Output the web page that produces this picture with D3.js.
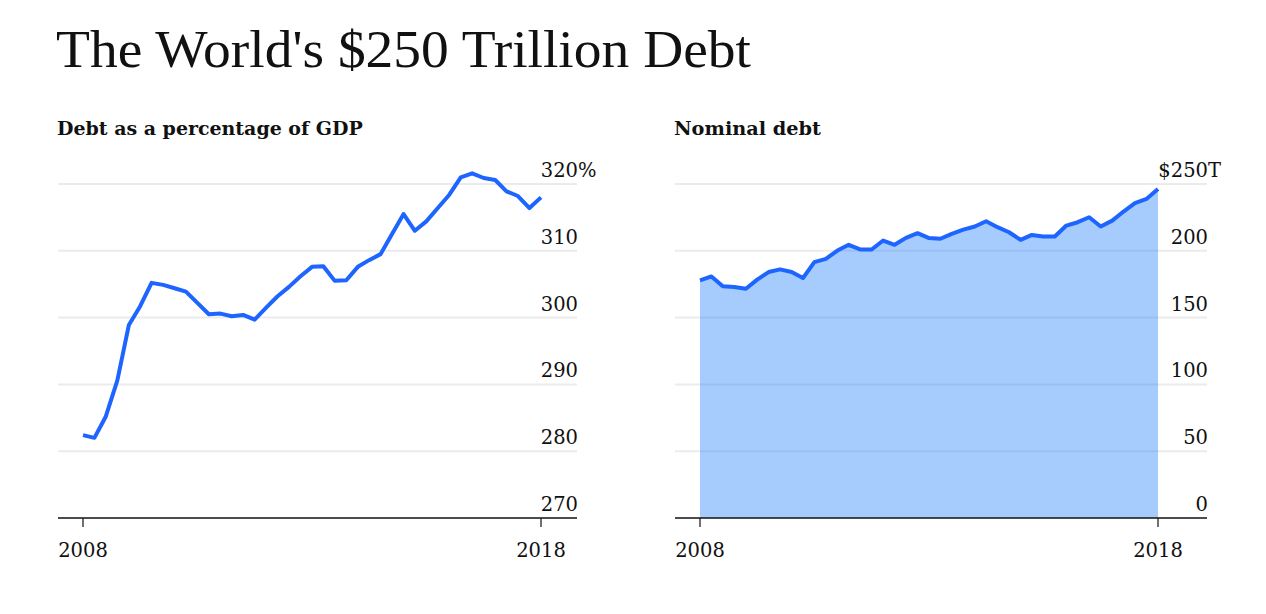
<!DOCTYPE html>
<html><head><meta charset="utf-8">
<script src="https://cdn.jsdelivr.net/npm/d3@7"></script>
<style>
body{margin:0;background:#fff;}
svg text{font-family:"DejaVu Serif",serif;fill:#111;}
</style></head>
<body><svg id="c" width="1266" height="614"></svg>
<script>
const title = "The World's $250 Trillion Debt";
const subtitles = ["Debt as a percentage of GDP", "Nominal debt"];
const startYear = 2008, endYear = 2018;
const xTickLabels = ["2008", "2018"];
// quarterly, 2008 Q1 .. 2018 Q1
const debtPctGDP = [282.4,282.0,285.2,290.6,298.9,301.7,305.2,304.9,304.4,303.9,302.2,300.5,300.6,300.2,300.4,299.7,301.5,303.2,304.6,306.2,307.6,307.7,305.5,305.6,307.6,308.6,309.5,312.5,315.5,313.0,314.4,316.4,318.4,321.0,321.6,320.9,320.6,318.9,318.2,316.4,318.0];
const nominalDebt = [177.9,180.8,173.4,172.9,171.6,178.4,184.1,186.1,184.1,179.6,191.5,194.0,200.2,204.5,201.0,201.0,207.7,204.5,209.7,213.2,209.5,209.0,212.7,215.9,218.2,222.1,217.7,213.9,208.2,211.9,210.7,210.7,218.9,221.4,225.1,218.2,222.6,229.4,235.6,238.8,246.3];
const pctTicks = [270,280,290,300,310,320];
const nomTicks = [0,50,100,150,200,250];

const svg = d3.select("#c");
svg.append("text").attr("x",56).attr("y",67).attr("font-size",53)
  .style("font-family","'Liberation Serif',serif")
  .attr("textLength",695).attr("lengthAdjust","spacingAndGlyphs").text(title);

const qDate = i => new Date(startYear + Math.floor(i/4), (i%4)*3, 1);

function fitText(sel, width){
  const w = sel.node().getComputedTextLength();
  const fs = parseFloat(sel.attr("font-size"));
  sel.attr("font-size", fs*width/w);
}

function panel(opt){
  const g = svg.append("g");
  const st = g.append("text").attr("x",opt.left-1).attr("y",135).attr("font-size",18).attr("font-weight","bold").text(opt.subtitle);
  fitText(st, opt.subW);
  const x = d3.scaleTime().domain([new Date(startYear,0,1), new Date(endYear,0,1)]).range([opt.x0,opt.x1]);
  const y = d3.scaleLinear().domain(opt.domain).range([518,184]);
  g.append("g").selectAll("line").data(opt.ticks.slice(1)).join("line")
    .attr("x1",opt.left).attr("x2",opt.right).attr("y1",d=>y(d)).attr("y2",d=>y(d))
    .attr("stroke","#ebebeb").attr("stroke-width",2);
  const lab = g.append("g").selectAll("text").data(opt.ticks).join("text")
    .attr("x",opt.right+1).attr("y",d=>y(d)-7).attr("font-size",19.5).attr("text-anchor","end");
  lab.each(function(d,i){
    const t = d3.select(this);
    const last = i===opt.ticks.length-1;
    if(last && opt.prefix){ t.append("tspan").text(opt.prefix); }
    t.append("tspan").text(d);
    if(last && opt.suffix){ t.append("tspan").text(opt.suffix); }
  });
  lab.filter((d,i)=>i===opt.ticks.length-1).each(function(d){
    const t=d3.select(this);
    const nums = t.selectAll("tspan").nodes();
    const numNode = nums[opt.prefix?1:0];
    const numW = numNode.getComputedTextLength();
    const preW = opt.prefix? nums[0].getComputedTextLength():0;
    t.attr("text-anchor","start").attr("x", opt.right+1-numW-preW);
  });
  const data = opt.values.map((v,i)=>({d:qDate(i),v}));
  if(opt.area){
    g.append("path").datum(data).attr("d",d3.area().x(p=>x(p.d)).y0(y(0)).y1(p=>y(p.v)))
      .attr("fill","#1f80fa").attr("fill-opacity",0.4);
  }
  g.append("path").datum(data).attr("d",d3.line().x(p=>x(p.d)).y(p=>y(p.v)))
    .attr("fill","none").attr("stroke","#1e64ff").attr("stroke-width",4).attr("stroke-linejoin","round");
  const ax = g.append("g").attr("transform","translate(0,518)");
  ax.append("line").attr("x1",opt.left).attr("x2",opt.right).attr("stroke","#111").attr("stroke-width",1.3);
  const yrs = xTickLabels.map(s=>new Date(+s,0,1));
  ax.selectAll("line.t").data(yrs).join("line").attr("class","t")
    .attr("x1",d=>x(d)).attr("x2",d=>x(d)).attr("y1",0).attr("y2",9).attr("stroke","#111").attr("stroke-width",1.2);
  ax.selectAll("text").data(yrs).join("text").attr("x",d=>x(d)).attr("y",39).attr("text-anchor","middle")
    .attr("font-size",19.5).text((d,i)=>xTickLabels[i]);
}

panel({subtitle:subtitles[0],subW:306,left:58,right:577,x0:83,x1:541,domain:[270,320],ticks:pctTicks,values:debtPctGDP,suffix:"%",area:false});
panel({subtitle:subtitles[1],subW:147,left:675,right:1207,x0:700,x1:1158,domain:[0,250],ticks:nomTicks,values:nominalDebt,prefix:"$",suffix:"T",area:true});
</script></body></html>
